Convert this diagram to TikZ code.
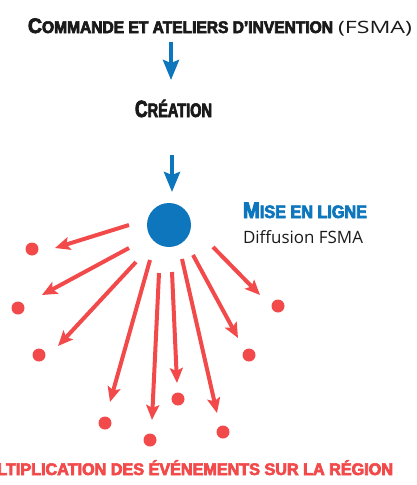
\documentclass[tikz,border=0pt]{standalone}
\usepackage{fontspec}
\usepackage{graphicx}
\usetikzlibrary{arrows.meta}
\setmainfont{Open Sans}
\newfontfamily\heavy{Liberation Sans}[FakeStretch=0.7, BoldFeatures={FakeBold=3.2}]
\definecolor{fblue}{HTML}{0E76BC}
\definecolor{fred}{HTML}{F24A4A}
\definecolor{ink}{HTML}{1A1A1A}
\newlength\tailw
\newcommand\sz[2]{{\fontsize{#1}{#1}\selectfont #2}}
\tikzset{
  txt/.style={inner sep=0pt, outer sep=0pt},
  redarrow/.style={draw=fred, line width=4pt, -{Stealth[length=15pt,width=13pt,inset=3pt]}},
  bluearrow/.style={draw=fblue, line width=4pt, -{Stealth[length=20pt,width=16pt,inset=3pt]}},
  dot/.style={circle, fill=fred, minimum size=13pt, inner sep=0pt},
  hubstyle/.style={circle, fill=fblue, minimum size=44pt, inner sep=0pt}
}
\begin{document}
\settowidth\tailw{\heavy\bfseries\fontsize{16.8}{17}\selectfont TIPLICATION DES ÉVÉNEMENTS SUR LA RÉGION}%
\pgfmathsetmacro\fac{387pt/\tailw}%
\begin{tikzpicture}[x=1pt,y=-1pt]
\useasboundingbox (0,0) rectangle (417,485);
\clip (0,0) rectangle (417,485);

% texts
\node[txt, anchor=base west, text=ink] (top) at (28,33)
  {\resizebox{305pt}{\height}{\heavy\bfseries\sz{21}{C}\fontsize{16.8}{17}\selectfont OMMANDE ET ATELIERS D’INVENTION}};
\node[txt, anchor=base west, text=ink] (fsma) at (338,33)
  {\resizebox{74pt}{\height}{\fontsize{17}{17}\selectfont (FSMA)}};
\node[txt, anchor=base west, text=ink] (creation) at (135,117)
  {\resizebox{77pt}{\height}{\heavy\bfseries\sz{23.5}{C}\fontsize{19.5}{20}\selectfont RÉATION}};
\node[hubstyle] (hub) at (169,225) {};
\node[txt, anchor=base west, text=fblue] (mise) at (243,218)
  {\resizebox{124pt}{\height}{\heavy\bfseries\sz{22.5}{M}\fontsize{18}{18}\selectfont ISE EN LIGNE}};
\node[txt, anchor=base west, text=ink] (diff) at (243,243)
  {\resizebox{120pt}{\height}{\fontsize{17}{17}\selectfont Diffusion FSMA}};
\node[txt, anchor=base east, text=fred] (bottom) at (393,475)
  {\scalebox{\fac}[1]{\heavy\bfseries\sz{21}{M}\fontsize{16.8}{17}\selectfont ULTIPLICATION DES ÉVÉNEMENTS SUR LA RÉGION}};

% blue arrows
\coordinate (b1s) at (171,42);
\coordinate (b1e) at (171,80);
\coordinate (b2s) at (172,155);
\coordinate (b2e) at (172,192);
\draw[bluearrow] (b1s) -- (b1e);
\draw[bluearrow] (b2s) -- (b2e);

% dots
\node[dot] (d1) at (32,249) {};
\node[dot] (d2) at (18,308) {};
\node[dot] (d3) at (39,355) {};
\node[dot] (d4) at (105,423) {};
\node[dot] (d5) at (150,440) {};
\node[dot] (d6) at (178,399) {};
\node[dot] (d7) at (223,432) {};
\node[dot] (d8) at (249,355) {};
\node[dot] (d9) at (278,306) {};

% red arrows
\coordinate (s1) at (129,225); \coordinate (e1) at (55,248);
\coordinate (s2) at (129,248); \coordinate (e2) at (42,295);
\coordinate (s3) at (136,262); \coordinate (e3) at (58,346);
\coordinate (s4) at (150,260); \coordinate (e4) at (110,402);
\coordinate (s5) at (159,273); \coordinate (e5) at (152,420);
\coordinate (s6) at (172,272); \coordinate (e6) at (177,383);
\coordinate (s7) at (182,259); \coordinate (e7) at (217,413);
\coordinate (s8) at (193,255); \coordinate (e8) at (238,338);
\coordinate (s9) at (213,247); \coordinate (e9) at (260,295);
\foreach \i in {1,...,9} { \draw[redarrow] (s\i) -- (e\i); }
\end{tikzpicture}
\end{document}
